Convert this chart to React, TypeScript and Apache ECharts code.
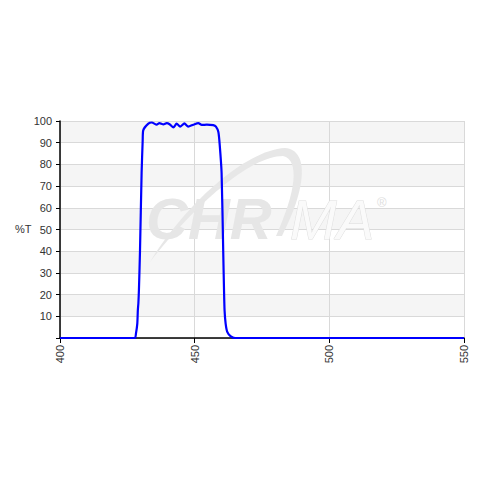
import React, { useEffect, useRef } from "react";
import * as echarts from "echarts";

const wavelength = [
  400, 427.8, 428.2, 428.7, 428.9, 429.1, 429.3, 429.7, 430.3, 430.7, 430.9,
  432.8, 434.1, 435.9, 436.9, 438.4, 439.6, 440.8, 442.1, 443.3, 444.6, 446.2,
  447.6, 449.5, 451.4, 452.6, 454.5, 456.9, 457.9, 458.8, 459.3, 460.0, 460.6,
  460.9, 461.1, 461.5, 462.1, 463.3, 465, 550,
];
const transmission = [
  0, 0, 2, 6.6, 12.8, 16, 22, 40, 76, 91, 95.7,
  98.8, 99.3, 98.3, 99.0, 98.4, 99.0, 98.4, 97.0, 98.8, 97.4, 98.9,
  97.4, 98.3, 99.0, 98.2, 98.3, 98.1, 97.4, 94.9, 89, 76, 40,
  22, 12.8, 6.6, 2.8, 0.9, 0, 0,
];
const xTicks = [400, 450, 500, 550];
const yTicks = [10, 20, 30, 40, 50, 60, 70, 80, 90, 100];

echarts.graphic.registerShape(
  "swoosh",
  echarts.graphic.extendPath(
    "M150 262 C 185 205, 245 150, 285 148 C 310 150, 306 190, 282 236 L 276 236 C 296 192, 300 160, 283 156 C 250 156, 195 205, 150 262 Z",
    {}
  )
);

export default function App() {
  const ref = useRef<HTMLDivElement>(null);
  useEffect(() => {
    if (!ref.current) return;
    const chart = echarts.init(ref.current, null, { renderer: "svg" });
    const data = wavelength.map((w, i) => [w, transmission[i]]);
    const font = "'Liberation Sans', Arial, sans-serif";
    chart.setOption({
      animation: false,
      backgroundColor: "#ffffff",
      grid: { left: 60, right: 16, top: 121, bottom: 142, containLabel: false },
      xAxis: {
        type: "value",
        min: 400,
        max: 550,
        interval: 50,
        axisLine: { show: true, onZero: false, lineStyle: { color: "#000", width: 1.5 } },
        axisTick: { show: true, length: 5, lineStyle: { color: "#000" } },
        axisLabel: {
          rotate: 90,
          color: "#333",
          fontSize: 11,
          fontFamily: font,
          margin: 7,
          formatter: (v: number) => (xTicks.includes(v) ? String(v) : ""),
        },
        splitLine: { show: true, lineStyle: { color: "#d9d9d9", width: 1 } },
      },
      yAxis: {
        type: "value",
        min: 0,
        max: 100,
        interval: 10,
        axisLine: { show: true, lineStyle: { color: "#000", width: 1.5 } },
        axisTick: { show: true, length: 4, lineStyle: { color: "#000" } },
        axisLabel: {
          color: "#333",
          fontSize: 11,
          fontFamily: font,
          margin: 8,
          formatter: (v: number) => (yTicks.includes(v) ? String(v) : ""),
        },
        splitLine: { show: true, lineStyle: { color: "#d9d9d9", width: 1 } },
        splitArea: { show: true, areaStyle: { color: ["#ffffff", "#f5f5f5"] } },
      },
      graphic: [
        {
          type: "text",
          left: 15,
          top: 223,
          style: { text: "%T", fontSize: 11, fontFamily: font, fill: "#333" },
        },
        {
          type: "swoosh",
          x: 0,
          y: 0,
          z: 1,
          style: { fill: "#e7e7e7", stroke: "none" },
        },
        {
          type: "text",
          x: 146,
          y: 189,
          z: 1,
          style: {
            text: "CHR",
            fontSize: 58,
            fontWeight: "bold",
            fontStyle: "italic",
            fontFamily: font,
            fill: "#e6e6e6",
          },
        },
        {
          type: "text",
          x: 290,
          y: 191,
          z: 1,
          style: {
            text: "MA",
            fontSize: 56,
            fontStyle: "italic",
            fontFamily: font,
            fill: "#fafafa",
            stroke: "#dedede",
            lineWidth: 1,
          },
        },
        {
          type: "text",
          x: 377,
          y: 196,
          z: 1,
          style: { text: "®", fontSize: 13, fontFamily: font, fill: "#dedede" },
        },
      ],
      series: [
        {
          type: "line",
          data,
          showSymbol: false,
          smooth: 0.2,
          z: 3,
          lineStyle: { color: "#0000ff", width: 2.2 },
        },
      ],
    });
    return () => chart.dispose();
  }, []);
  return (
    <div
      ref={ref}
      style={{ width: 480, height: 480, position: "absolute", left: 0, top: 0 }}
    />
  );
}
